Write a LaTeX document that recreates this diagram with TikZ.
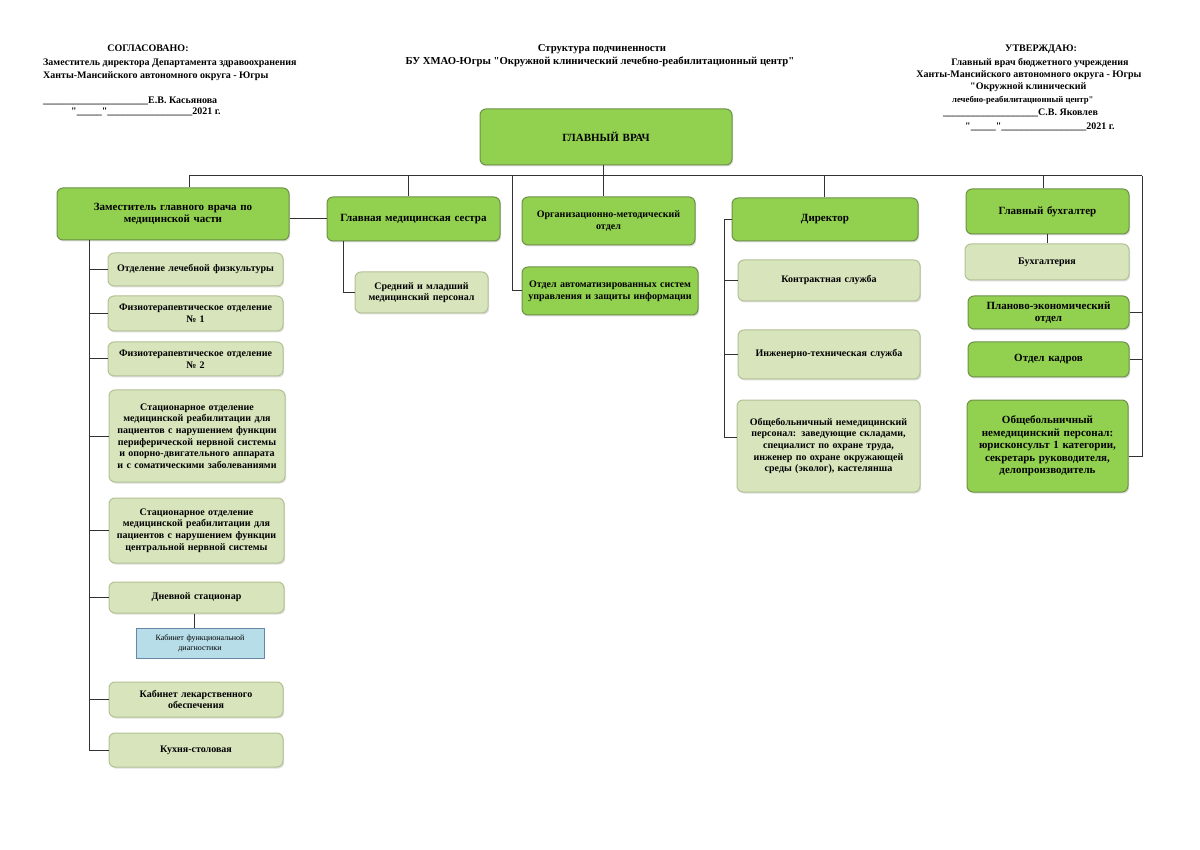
\documentclass[tikz,border=0pt]{standalone}
\usepackage{fontspec}
\setmainfont{Liberation Serif}
\newfontfamily\plainq{Liberation Serif}
\usetikzlibrary{shadows}
\definecolor{dkg}{RGB}{146,208,80}
\definecolor{dkb}{RGB}{110,145,72}
\definecolor{ltg}{RGB}{216,228,188}
\definecolor{ltb}{RGB}{178,194,148}
\definecolor{blf}{RGB}{183,221,232}
\definecolor{blb}{RGB}{105,135,165}
\definecolor{lnc}{RGB}{50,50,50}
\newcommand\qq{{\plainq\symbol{34}}}
\tikzset{
 bxbase/.style={rounded corners=6pt, line width=1pt, align=center, inner sep=3pt,
   drop shadow={opacity=0.25, shadow xshift=1.2pt, shadow yshift=-1.5pt}},
 dk/.style={bxbase, draw=dkb, fill=dkg, font=\bfseries\fontsize{10}{11.7}\selectfont},
 dkL/.style={bxbase, draw=dkb, fill=dkg, font=\bfseries\fontsize{11}{12.4}\selectfont},
 lt/.style={bxbase, draw=ltb, fill=ltg, font=\bfseries\fontsize{10}{11.7}\selectfont},
 bl/.style={draw=blb, fill=blf, line width=0.8pt, align=center, inner sep=2pt, font=\fontsize{8}{10}\selectfont},
 ln/.style={draw=lnc, line width=1pt},
 hd/.style={inner sep=0pt, font=\bfseries\fontsize{10}{11}\selectfont},
 hdt/.style={inner sep=0pt, font=\bfseries\fontsize{10.7}{12}\selectfont},
}
\newcommand\mkbox[7]{%
  \pgfmathsetmacro\bxw{#5-#3}\pgfmathsetmacro\bxh{#6-#4}\pgfmathsetmacro\bxt{#5-#3-8}%
  \node[#1, minimum width=\bxw pt, minimum height=\bxh pt, text width=\bxt pt] (#2) at ({(#3+#5)/2},{(#4+#6)/2}) {#7};}
\begin{document}
\begin{tikzpicture}[x=1pt,y=-1pt]
\path[use as bounding box, fill=white] (0,0) rectangle (1200,850);

% header left
\node[hd, anchor=mid] (hL1) at (148,49) {СОГЛАСОВАНО:};
\node[hd, anchor=mid west] (hL2) at (43,63) {Заместитель директора Департамента здравоохранения};
\node[hd, anchor=mid west] (hL3) at (43,76) {Ханты-Мансийского автономного округа - Югры};
\node[hd, anchor=mid west] (hL4) at (43,101) {\_\_\_\_\_\_\_\_\_\_\_\_\_\_\_\_\_\_\_\_\_Е.В. Касьянова};
\node[hd, anchor=mid west] (hL5) at (71,112) {\qq\_\_\_\_\_\qq\_\_\_\_\_\_\_\_\_\_\_\_\_\_\_\_\_2021 г.};
% header centre
\node[hdt, anchor=mid] (hC1) at (602,49) {Структура подчиненности};
\node[hdt, anchor=mid] (hC2) at (600,62) {БУ ХМАО-Югры \qq Окружной клинический лечебно-реабилитационный центр\qq};
% header right
\node[hd, anchor=mid] (hR1) at (1041,49) {УТВЕРЖДАЮ:};
\node[hd, anchor=mid] (hR2) at (1040,63) {Главный врач бюджетного учреждения};
\node[hd, anchor=mid] (hR3) at (1029,75) {Ханты-Мансийского автономного округа - Югры};
\node[hd, anchor=mid west] (hR4) at (970,87) {\qq Окружной клинический};
\node[hd, anchor=mid west, font=\bfseries\fontsize{8.7}{10}\selectfont] (hR5) at (952,100) {лечебно-реабилитационный центр\qq};
\node[hd, anchor=mid west] (hR6) at (943,113) {\_\_\_\_\_\_\_\_\_\_\_\_\_\_\_\_\_\_\_С.В. Яковлев};
\node[hd, anchor=mid west] (hR7) at (965,127) {\qq\_\_\_\_\_\qq\_\_\_\_\_\_\_\_\_\_\_\_\_\_\_\_\_2021 г.};

% boxes
\mkbox{dkL}{chief}{480}{109}{732}{165}{ГЛАВНЫЙ ВРАЧ}
\mkbox{dkL}{dep}{57}{188}{289}{240}{Заместитель главного врача по\\медицинской части}
\mkbox{dkL}{gms}{327}{197}{500}{241}{Главная медицинская сестра}
\mkbox{dk}{org}{522}{197}{695}{245}{Организационно-методический\\отдел}
\mkbox{dk}{asu}{522}{267}{698}{315}{Отдел автоматизированных систем\\управления и защиты информации}
\mkbox{dkL}{dir}{732}{198}{918}{241}{Директор}
\mkbox{dkL}{gb}{966}{189}{1129}{234}{Главный бухгалтер}
\mkbox{lt}{sred}{355}{272}{488}{313}{Средний и младший\\медицинский персонал}
\mkbox{lt}{kontr}{738}{260}{920}{301}{Контрактная служба}
\mkbox{lt}{inzh}{738}{330}{920}{379}{Инженерно-техническая служба}
\mkbox{lt}{obsh1}{737}{400}{920}{492}{Общебольничный немедицинский\\персонал: заведующие складами,\\специалист по охране труда,\\инженер по охране окружающей\\среды (эколог), кастелянша}
\mkbox{lt}{buh}{965}{244}{1129}{280}{Бухгалтерия}
\mkbox{dkL}{plan}{968}{296}{1129}{329}{Планово-экономический\\отдел}
\mkbox{dkL}{kadr}{968}{342}{1129}{377}{Отдел кадров}
\mkbox{dkL}{obsh2}{967}{400}{1128}{492}{Общебольничный\\немедицинский персонал:\\юрисконсульт 1 категории,\\секретарь руководителя,\\делопроизводитель}
\mkbox{lt}{lfk}{108}{253}{283}{286}{Отделение лечебной физкультуры}
\mkbox{lt}{f1}{108}{296}{283}{331}{Физиотерапевтическое отделение\\№ 1}
\mkbox{lt}{f2}{108}{342}{283}{376}{Физиотерапевтическое отделение\\№ 2}
\mkbox{lt}{st1}{109}{390}{285}{482}{Стационарное отделение\\медицинской реабилитации для\\пациентов с нарушением функции\\периферической нервной системы\\и опорно-двигательного аппарата\\и с соматическими заболеваниями}
\mkbox{lt}{st2}{109}{498}{284}{563}{Стационарное отделение\\медицинской реабилитации для\\пациентов с нарушением функции\\центральной нервной системы}
\mkbox{lt}{dn}{109}{582}{284}{613}{Дневной стационар}
\mkbox{bl}{kfd}{136}{628}{264}{658}{Кабинет функциональной\\диагностики}
\mkbox{lt}{kl}{109}{682}{283}{717}{Кабинет лекарственного\\обеспечения}
\mkbox{lt}{kuh}{109}{733}{283}{767}{Кухня-столовая}

% connectors
\coordinate (b1) at (189,176);
\coordinate (b2) at (408,176);
\coordinate (b3) at (512,176);
\coordinate (b4) at (603,176);
\coordinate (b5) at (824,176);
\coordinate (b6) at (1043,176);
\coordinate (bR) at (1142,176);
\draw[ln] (b1) -- (bR);
\draw[ln] (chief.south -| b4) -- (org.north -| b4);
\draw[ln] (b1) -- (dep.north -| b1);
\draw[ln] (b2) -- (gms.north -| b2);
\draw[ln] (b3) |- (asu.west);
\draw[ln] (b5) -- (dir.north -| b5);
\draw[ln] (b6) -- (gb.north -| b6);
\draw[ln] (bR) |- ([yshift=-10pt]obsh2.east);
\draw[ln] (plan.east) -- (plan.east -| bR);
\draw[ln] (kadr.east) -- (kadr.east -| bR);
\draw[ln] (dep.east |- gms.west) -- (gms.west);
\coordinate (g1) at (343,0);
\draw[ln] (gms.south -| g1) |- (sred.west);
\coordinate (d1) at (724,0);
\draw[ln] (dir.west) -- (dir.west -| d1) |- ([yshift=9pt]obsh1.west);
\draw[ln] (kontr.west -| d1) -- (kontr.west);
\draw[ln] (inzh.west -| d1) -- (inzh.west);
\coordinate (u1) at (1047,0);
\draw[ln] (gb.south -| u1) -- (buh.north -| u1);
\coordinate (l1) at (89,0);
\draw[ln] (dep.south -| l1) |- (kuh.west);
\foreach \n in {lfk,f1,f2,st1,st2,dn,kl}{\draw[ln] (\n.west -| l1) -- (\n.west);}
\coordinate (k1) at (194,0);
\draw[ln] (dn.south -| k1) -- (kfd.north -| k1);
\end{tikzpicture}
\end{document}
